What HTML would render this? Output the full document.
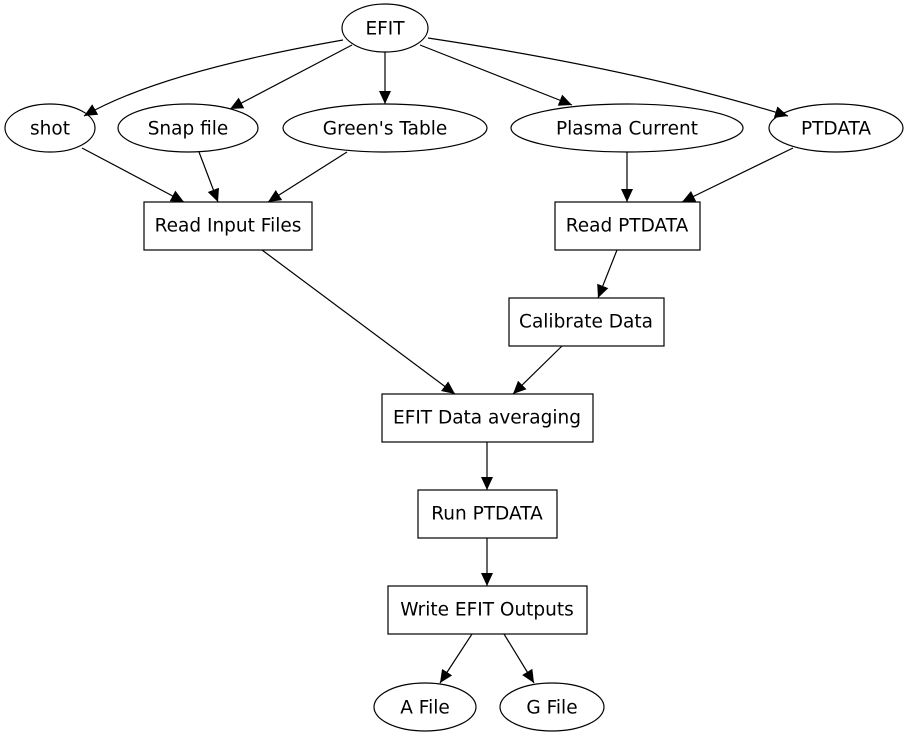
<!DOCTYPE html>
<html><head><meta charset="utf-8"><style>
body{margin:0;background:#fff}
text{font-family:"DejaVu Sans","Liberation Sans",sans-serif;font-size:18.5px;text-anchor:middle;dominant-baseline:central;fill:#000}
</style></head><body>
<svg width="909" height="739" viewBox="0 0 909 739" xmlns="http://www.w3.org/2000/svg">
<defs><marker id="a" markerUnits="userSpaceOnUse" markerWidth="14" markerHeight="12" refX="13" refY="6" orient="auto"><path d="M0,0 L13,6 L0,12 Z" fill="#000"/></marker></defs>
<g fill="none" stroke="#000" stroke-width="1.2">
<ellipse cx="385" cy="28" rx="43" ry="24"/>
<ellipse cx="50" cy="128" rx="45" ry="24"/>
<ellipse cx="188" cy="128" rx="70" ry="24"/>
<ellipse cx="385" cy="128" rx="102" ry="24"/>
<ellipse cx="627" cy="128" rx="116" ry="24"/>
<ellipse cx="836" cy="128" rx="67" ry="24"/>
<rect x="144" y="202" width="168" height="48"/>
<rect x="555" y="202" width="145" height="48"/>
<rect x="509" y="298" width="155" height="48"/>
<rect x="382" y="394" width="211" height="48"/>
<rect x="418" y="490" width="139" height="48"/>
<rect x="388" y="586" width="199" height="48"/>
<ellipse cx="425" cy="707" rx="51" ry="24"/>
<ellipse cx="552" cy="707" rx="52" ry="24"/>
</g>
<g fill="none" stroke="#000" stroke-width="1.2" marker-end="url(#a)">
<path d="M343,40 Q160,72 84,116"/>
<path d="M352,45 L230,109"/>
<path d="M385,52 L385,104"/>
<path d="M420,45 L572,105"/>
<path d="M428,38 Q640,70 788,116"/>
<path d="M82,148 L184,202"/>
<path d="M199,152 L218,202"/>
<path d="M347,152 L268,202"/>
<path d="M627,152 L627,202"/>
<path d="M793,148 L682,202"/>
<path d="M262,250 L455,394"/>
<path d="M617,250 L598,298"/>
<path d="M562,346 L513,394"/>
<path d="M487,442 L487,490"/>
<path d="M487,538 L487,586"/>
<path d="M472,634 L440,683"/>
<path d="M504,634 L534,683"/>
</g>
<g>
<text x="385" y="29">EFIT</text>
<text x="50" y="129">shot</text>
<text x="188" y="129">Snap file</text>
<text x="385" y="129">Green's Table</text>
<text x="627" y="129">Plasma Current</text>
<text x="836" y="129">PTDATA</text>
<text x="228" y="226">Read Input Files</text>
<text x="627" y="226">Read PTDATA</text>
<text x="586" y="322">Calibrate Data</text>
<text x="487" y="418">EFIT Data averaging</text>
<text x="487" y="514">Run PTDATA</text>
<text x="487" y="610">Write EFIT Outputs</text>
<text x="425" y="708">A File</text>
<text x="552" y="708">G File</text>
</g>
</svg>
</body></html>
